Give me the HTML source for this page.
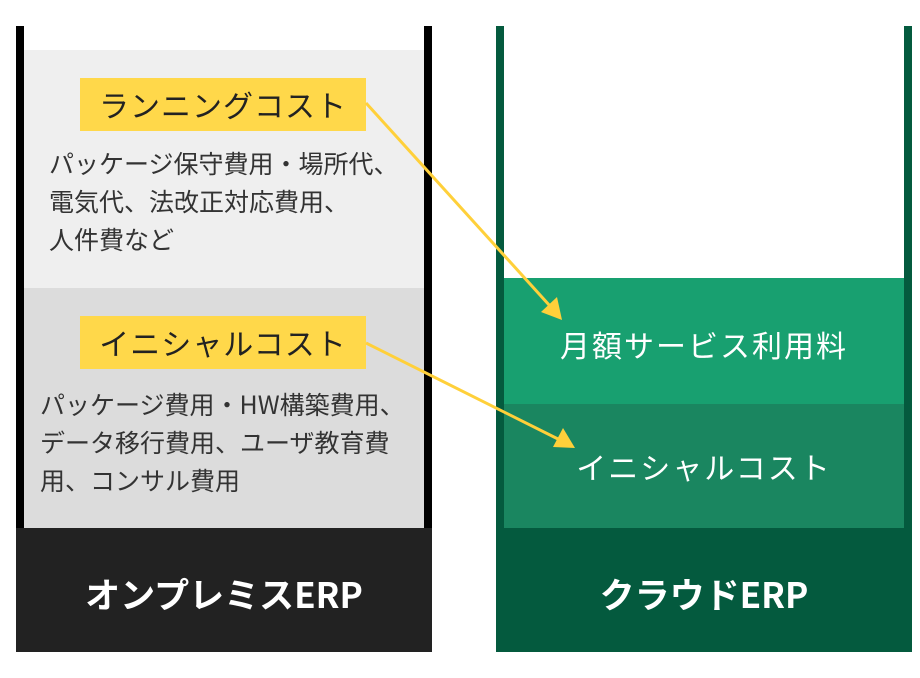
<!DOCTYPE html>
<html><head><meta charset="utf-8"><style>
body{margin:0;width:920px;height:678px;background:#fff;position:relative;overflow:hidden;font-family:"Noto Sans CJK JP","Liberation Sans",sans-serif}
div{position:absolute;box-sizing:border-box}
.t{white-space:nowrap}
</style></head><body>
<div style="left:16px;top:26px;width:416px;height:626px;background:#000"></div>
<div style="left:24px;top:26px;width:400px;height:24px;background:#fff"></div>
<div style="left:24px;top:50px;width:400px;height:238px;background:#efefef"></div>
<div style="left:24px;top:288px;width:400px;height:240px;background:#dcdcdc"></div>
<div style="left:16px;top:528px;width:416px;height:124px;background:#222"></div>
<div style="left:80px;top:78px;width:286px;height:53px;background:#ffd84a"></div>
<div style="left:80px;top:316px;width:286px;height:53px;background:#ffd84a"></div>
<div class="t" style="left:80px;top:78px;width:286px;line-height:53px;text-align:center;font-size:30px;color:#222;letter-spacing:1px">ランニングコスト</div>
<div class="t" style="left:80px;top:316px;width:286px;line-height:53px;text-align:center;font-size:30px;color:#222;letter-spacing:1px">イニシャルコスト</div>
<div class="t" style="left:49px;top:144px;font-size:25px;line-height:38px;color:#333">パッケージ保守費用・場所代、<br>電気代、法改正対応費用、<br>人件費など</div>
<div class="t" style="left:40px;top:385px;font-size:25px;line-height:38px;color:#333">パッケージ費用・HW構築費用、<br>データ移行費用、ユーザ教育費<br>用、コンサル費用</div>
<div class="t" style="left:16px;top:532px;width:416px;line-height:124px;text-align:center;font-size:35px;font-weight:bold;color:#fff">オンプレミスERP</div>

<div style="left:496px;top:26px;width:416px;height:626px;background:#045a3e"></div>
<div style="left:504px;top:26px;width:400px;height:252px;background:#fff"></div>
<div style="left:504px;top:278px;width:400px;height:126px;background:#18a070"></div>
<div style="left:504px;top:404px;width:400px;height:124px;background:#1a8660"></div>
<div class="t" style="left:504px;top:280px;width:400px;line-height:128px;text-align:center;font-size:30px;color:#fff;letter-spacing:2px">月額サービス利用料</div>
<div class="t" style="left:504px;top:404px;width:400px;line-height:124px;text-align:center;font-size:30px;color:#fff;letter-spacing:2px">イニシャルコスト</div>
<div class="t" style="left:496px;top:532px;width:416px;line-height:124px;text-align:center;font-size:35px;font-weight:bold;color:#fff">クラウドERP</div>

<svg width="920" height="678" style="position:absolute;left:0;top:0">
<g stroke="#ffd03a" stroke-width="3" fill="#ffd03a">
<line x1="366" y1="103" x2="550" y2="306"/>
<polygon points="562,320 541,312 557,297" stroke="none"/>
<line x1="366" y1="343" x2="562" y2="441"/>
<polygon points="575,448 553,447 563,428" stroke="none"/>
</g>
</svg>
</body></html>
